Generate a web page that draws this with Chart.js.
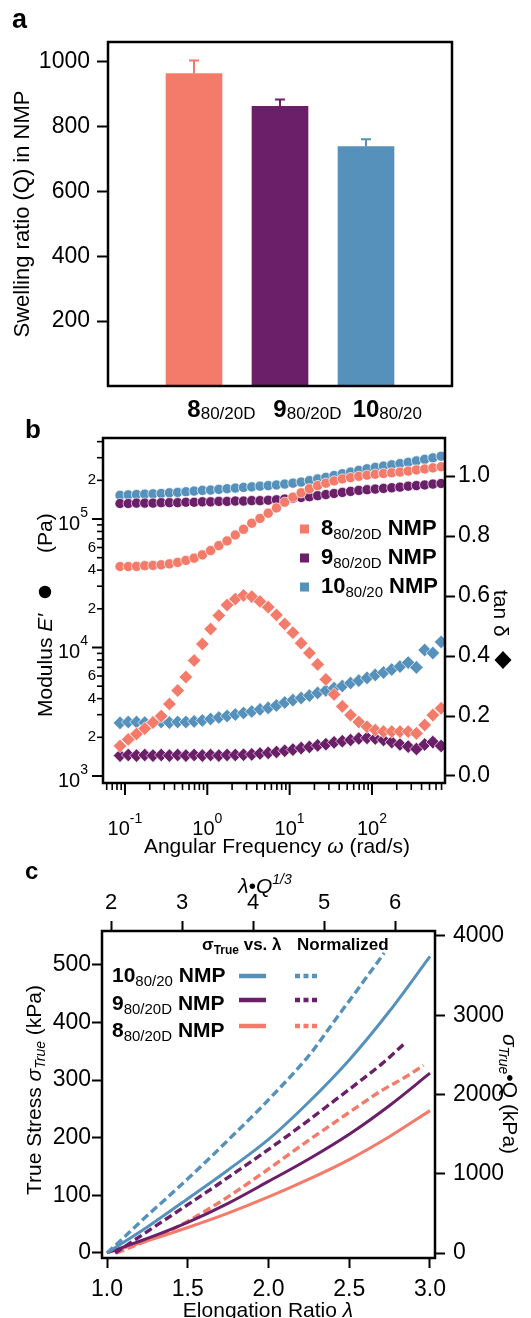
<!DOCTYPE html>
<html>
<head>
<meta charset="utf-8">
<script src="https://cdn.jsdelivr.net/npm/chart.js@4.4.0/dist/chart.umd.min.js"></script>
<style>
  html, body { margin: 0; padding: 0; background: #fff; }
  body { width: 531px; height: 1318px; position: relative; overflow: hidden; }
  canvas { position: absolute; left: 0; }
</style>
</head>
<body>
<canvas id="swell" width="531" height="420" style="top:0"></canvas>
<canvas id="rheo" width="531" height="455" style="top:410px"></canvas>
<canvas id="stress" width="531" height="468" style="top:850px"></canvas>
<script>
// ---- swelling ratio (panel a) ----
const samples = ['8', '9', '10'];
const sampleSubs = ['80/20D', '80/20D', '80/20'];
const swelling = [963, 862, 738];
const swellingErr = [40, 21, 22];
const swellTicks = [200, 400, 600, 800, 1000];

// ---- frequency sweep (panel b) ----
const omega = [0.0871, 0.1096, 0.138, 0.1738, 0.2188, 0.2754, 0.3467, 0.4365, 0.5495, 0.6918,
  0.871, 1.096, 1.38, 1.738, 2.188, 2.754, 3.467, 4.365, 5.495, 6.918,
  8.71, 10.96, 13.8, 17.38, 21.88, 27.54, 34.67, 43.65, 54.95, 69.18,
  87.1, 109.6, 138.0, 173.8, 218.8, 275.4, 346.7, 436.5, 549.5, 691.8];
const modulus8 = [42700, 42700, 42800, 43300, 43500, 44000, 44800, 45900, 47600, 49600,
  52600, 56800, 62100, 67500, 75100, 83200, 92700, 101000, 111000, 122000,
  135000, 148000, 160000, 172000, 182000, 190000, 198000, 205000, 210000, 215000,
  219000, 223000, 226000, 229000, 232000, 236000, 241000, 245000, 250000, 255000];
const modulus9 = [132000, 132000, 133000, 133000, 133000, 134000, 134000, 134000, 135000, 135000,
  136000, 136000, 137000, 137000, 138000, 138000, 139000, 139000, 140000, 141000,
  143000, 145000, 147000, 149000, 152000, 155000, 158000, 161000, 164000, 167000,
  169000, 171000, 173000, 175000, 177000, 180000, 182000, 184000, 187000, 189000];
const modulus10 = [153000, 154000, 155000, 156000, 157000, 158000, 160000, 161000, 163000, 165000,
  167000, 168000, 170000, 172000, 174000, 176000, 178000, 180000, 182000, 184000,
  187000, 190000, 194000, 199000, 205000, 211000, 218000, 225000, 232000, 239000,
  246000, 252000, 258000, 264000, 270000, 276000, 283000, 291000, 299000, 308000];
const tan8 = [0.10, 0.122, 0.14, 0.158, 0.178, 0.20, 0.24, 0.285, 0.33, 0.385,
  0.44, 0.49, 0.535, 0.57, 0.59, 0.602, 0.598, 0.582, 0.563, 0.537,
  0.507, 0.478, 0.443, 0.41, 0.372, 0.322, 0.272, 0.232, 0.203, 0.18,
  0.164, 0.153, 0.148, 0.148, 0.148, 0.148, 0.142, 0.17, 0.203, 0.226];
const tan9 = [0.068, 0.07, 0.068, 0.07, 0.068, 0.07, 0.068, 0.07, 0.068, 0.07,
  0.068, 0.07, 0.068, 0.07, 0.07, 0.071, 0.072, 0.075, 0.077, 0.08,
  0.084, 0.088, 0.093, 0.097, 0.102, 0.106, 0.112, 0.116, 0.12, 0.125,
  0.127, 0.125, 0.12, 0.113, 0.105, 0.098, 0.09, 0.105, 0.113, 0.10];
const tan10 = [0.177, 0.18, 0.18, 0.178, 0.18, 0.18, 0.178, 0.18, 0.18, 0.182,
  0.185, 0.19, 0.195, 0.2, 0.205, 0.21, 0.215, 0.222, 0.227, 0.235,
  0.245, 0.253, 0.26, 0.268, 0.277, 0.285, 0.293, 0.30, 0.31, 0.318,
  0.327, 0.337, 0.345, 0.355, 0.365, 0.378, 0.362, 0.42, 0.41, 0.447];
const freqMajor = [0.1, 1, 10, 100];
const freqExp = ['-1', '0', '1', '2'];
const freqMinor = [0.06, 0.07, 0.08, 0.09, 0.2, 0.3, 0.4, 0.5, 0.6, 0.7, 0.8, 0.9,
  2, 3, 4, 5, 6, 7, 8, 9, 20, 30, 40, 50, 60, 70, 80, 90, 200, 300, 400, 500, 600, 700];
const modMajor = [1e3, 1e4, 1e5];
const modExp = ['3', '4', '5'];
const modMinor = [2e3, 3e3, 4e3, 5e3, 6e3, 7e3, 8e3, 9e3, 2e4, 3e4, 4e4, 5e4, 6e4, 7e4, 8e4, 9e4, 2e5, 3e5, 4e5];
const modMinorLabeled = [2e3, 4e3, 6e3, 2e4, 4e4, 6e4, 2e5];
const tanTicks = [0, 0.2, 0.4, 0.6, 0.8, 1.0];

// ---- tensile curves (panel c) ----
const lambda = [1.0, 1.25, 1.5, 1.75, 2.0, 2.25, 2.5, 2.75, 3.0];
const stress10 = [0, 45, 94, 144, 197, 262, 335, 420, 515];
const stress9 = [0, 25, 53, 86, 124, 163, 206, 256, 312];
const stress8 = [0, 21, 44, 69, 97, 128, 162, 202, 247];
const normX10 = [1.944, 2.103, 2.421, 2.763, 3.081, 3.399, 3.763, 4.036, 4.332, 4.605, 4.833, 5.128, 5.469, 5.847];
const norm10 = [0, 131, 400, 676, 937, 1206, 1525, 1765, 2041, 2303, 2542, 2906, 3320, 3785];
const normX9 = [2.057, 2.398, 2.739, 3.081, 3.422, 3.763, 4.104, 4.446, 4.787, 5.128, 5.469, 5.810, 6.118];
const norm9 = [0, 203, 407, 610, 814, 1024, 1235, 1453, 1678, 1910, 2143, 2383, 2630];
const normX8 = [2.080, 2.398, 2.739, 3.081, 3.422, 3.763, 4.104, 4.446, 4.787, 5.128, 5.469, 5.810, 6.151, 6.402];
const norm8 = [0, 116, 247, 400, 581, 777, 988, 1206, 1424, 1634, 1845, 2049, 2223, 2368];
const lambdaTicks = [1.0, 1.5, 2.0, 2.5, 3.0];
const scaledTicks = [2, 3, 4, 5, 6];
const stressTicks = [0, 100, 200, 300, 400, 500];
const normTicks = [0, 1000, 2000, 3000, 4000];

const C8 = '#f47b6a', C9 = '#6b1f68', C10 = '#5591ba';
const colors = [C8, C9, C10];
const FAM = '"Liberation Sans", Arial, sans-serif';
const f = (size, style) => (style ? style + ' ' : '') + size + 'px ' + FAM;

Chart.defaults.font.family = FAM;
Chart.defaults.color = '#000';
Chart.defaults.animation = false;

// draws text runs side by side; each part is [text, font, dy]
function rich(ctx, parts, x, y, align) {
  let w = 0;
  parts.forEach(p => { ctx.font = p[1]; w += ctx.measureText(p[0]).width; });
  let cx = align === 'center' ? x - w / 2 : align === 'right' ? x - w : x;
  ctx.textAlign = 'left';
  ctx.textBaseline = 'alphabetic';
  parts.forEach(p => {
    ctx.font = p[1];
    ctx.fillText(p[0], cx, y + (p[2] || 0));
    cx += ctx.measureText(p[0]).width;
  });
  return w;
}
function turned(ctx, x, y, angle, fn) {
  ctx.save(); ctx.translate(x, y); ctx.rotate(angle); fn(); ctx.restore();
}
function frame(ctx, a) {
  ctx.save();
  ctx.strokeStyle = '#000';
  ctx.lineWidth = 2.5;
  ctx.strokeRect(a.left, a.top, a.right - a.left, a.bottom - a.top);
  ctx.restore();
}
const tickGrid = len => ({ drawOnChartArea: false, drawTicks: true, tickLength: len, tickWidth: 2, tickColor: '#000' });
const fixTicks = list => scale => { scale.ticks = list.map(v => ({ value: v })); };

// ================= panel a =================
new Chart(document.getElementById('swell'), {
  type: 'bar',
  data: {
    labels: ['', ...samples, ''],
    datasets: [{
      data: [null, ...swelling, null],
      backgroundColor: ['rgba(0,0,0,0)', ...colors, 'rgba(0,0,0,0)'],
      barThickness: 56
    }]
  },
  options: {
    responsive: false,
    layout: { padding: { left: 0, right: 79, top: 42, bottom: 34 } },
    plugins: { legend: { display: false }, tooltip: { enabled: false } },
    scales: {
      x: { type: 'category', offset: false, display: false },
      y: {
        min: 0, max: 1060,
        afterBuildTicks: fixTicks(swellTicks),
        afterFit: s => { s.width = 108; },
        grid: tickGrid(11),
        border: { display: false },
        ticks: { font: { size: 23 }, padding: 7, color: '#000', callback: v => String(v) }
      }
    }
  },
  plugins: [{
    id: 'swellDecor',
    afterDatasetsDraw(chart) {
      const ctx = chart.ctx, meta = chart.getDatasetMeta(0), y = chart.scales.y;
      ctx.save();
      swelling.forEach((v, i) => {
        const bar = meta.data[i + 1];
        const top = y.getPixelForValue(v), end = y.getPixelForValue(v + swellingErr[i]);
        ctx.strokeStyle = colors[i];
        ctx.lineWidth = 2;
        ctx.beginPath();
        ctx.moveTo(bar.x, top); ctx.lineTo(bar.x, end);
        ctx.moveTo(bar.x - 5, end); ctx.lineTo(bar.x + 5, end);
        ctx.stroke();
      });
      ctx.restore();
    },
    afterDraw(chart) {
      const ctx = chart.ctx, a = chart.chartArea, x = chart.scales.x;
      frame(ctx, a);
      ctx.save();
      ctx.fillStyle = '#000';
      samples.forEach((s, i) => {
        const px = x.getPixelForValue(i + 1);
        ctx.font = f(24, 'bold');
        const mw = ctx.measureText(s).width;
        rich(ctx, [[s, f(24, 'bold'), 0], [sampleSubs[i], f(17), 2]], px - mw / 2, 417, 'left');
      });
      turned(ctx, 29, 214, -Math.PI / 2, () => rich(ctx, [['Swelling ratio (Q) in NMP', f(22)]], 0, 0, 'center'));
      rich(ctx, [['a', f(27, 'bold')]], 12, 28, 'left');
      ctx.restore();
    }
  }]
});

// ================= panel b =================
const pts = (xs, ys) => xs.map((v, i) => ({ x: v, y: ys[i] }));
const sweep = (data, color, style, axis) => ({
  data, yAxisID: axis, pointStyle: style,
  pointRadius: style === 'circle' ? 5.1 : 6.8,
  pointBackgroundColor: color, pointBorderColor: 'rgba(255,255,255,0.85)', pointBorderWidth: 0.8,
  showLine: false
});
new Chart(document.getElementById('rheo'), {
  type: 'scatter',
  data: {
    datasets: [
      sweep(pts(omega, tan8), C8, 'rectRot', 'y2'),
      sweep(pts(omega, modulus8), C8, 'circle', 'y'),
      sweep(pts(omega, tan9), C9, 'rectRot', 'y2'),
      sweep(pts(omega, modulus9), C9, 'circle', 'y'),
      sweep(pts(omega, tan10), C10, 'rectRot', 'y2'),
      sweep(pts(omega, modulus10), C10, 'circle', 'y')
    ]
  },
  options: {
    responsive: false,
    layout: { padding: { left: 103, right: 0, top: 28, bottom: 82 } },
    plugins: { legend: { display: false }, tooltip: { enabled: false } },
    scales: {
      x: { type: 'logarithmic', min: 0.0541, max: 771, display: false },
      y: { type: 'logarithmic', min: 882, max: 427000, display: false },
      y2: {
        type: 'linear', position: 'right', min: -0.0234, max: 1.127,
        afterBuildTicks: fixTicks(tanTicks),
        afterFit: s => { s.width = 86; },
        grid: tickGrid(10),
        border: { display: false },
        ticks: { font: { size: 23 }, padding: 3, color: '#000', callback: v => v.toFixed(1) }
      }
    }
  },
  plugins: [{
    id: 'rheoDecor',
    afterDraw(chart) {
      const ctx = chart.ctx, a = chart.chartArea, x = chart.scales.x, y = chart.scales.y;
      frame(ctx, a);
      ctx.save();
      ctx.strokeStyle = '#000';
      ctx.fillStyle = '#000';
      // frequency ticks
      ctx.lineWidth = 2;
      freqMajor.forEach(v => {
        const px = x.getPixelForValue(v);
        ctx.beginPath(); ctx.moveTo(px, a.bottom); ctx.lineTo(px, a.bottom + 12); ctx.stroke();
      });
      ctx.lineWidth = 1.6;
      freqMinor.forEach(v => {
        const px = x.getPixelForValue(v);
        if (px <= a.left + 1 || px >= a.right - 1) return;
        ctx.beginPath(); ctx.moveTo(px, a.bottom); ctx.lineTo(px, a.bottom + 7); ctx.stroke();
      });
      freqMajor.forEach((v, i) => {
        rich(ctx, [['10', f(20)], [freqExp[i], f(14), -12]], x.getPixelForValue(v), 425, 'center');
      });
      // modulus ticks
      ctx.lineWidth = 2;
      modMajor.forEach((v, i) => {
        const py = y.getPixelForValue(v);
        ctx.beginPath(); ctx.moveTo(a.left, py); ctx.lineTo(a.left - 11, py); ctx.stroke();
        rich(ctx, [['10', f(20), 11], [modExp[i], f(14), -2]], a.left - 15, py, 'right');
      });
      ctx.lineWidth = 1.6;
      modMinor.forEach(v => {
        const py = y.getPixelForValue(v);
        ctx.beginPath(); ctx.moveTo(a.left, py); ctx.lineTo(a.left - 6, py); ctx.stroke();
      });
      ctx.font = f(15);
      ctx.textAlign = 'right';
      ctx.textBaseline = 'middle';
      modMinorLabeled.forEach(v => {
        ctx.fillText(String(v).charAt(0), a.left - 7, y.getPixelForValue(v));
      });
      // axis titles
      rich(ctx, [['Angular Frequency ', f(21)], ['ω', f(21, 'italic')], [' (rad/s)', f(21)]], 277, 443, 'center');
      turned(ctx, 52, 307, -Math.PI / 2, () => rich(ctx, [['Modulus ', f(21)], ['E′', f(21, 'italic')]], 0, 0, 'left'));
      ctx.beginPath(); ctx.arc(45, 182, 6.2, 0, Math.PI * 2); ctx.fill();
      turned(ctx, 52, 143, -Math.PI / 2, () => rich(ctx, [['(Pa)', f(21)]], 0, 0, 'left'));
      turned(ctx, 494, 180, Math.PI / 2, () => rich(ctx, [['tan δ', f(21)]], 0, 0, 'left'));
      ctx.beginPath();
      ctx.moveTo(503, 241); ctx.lineTo(511.5, 250); ctx.lineTo(503, 259); ctx.lineTo(494.5, 250);
      ctx.closePath(); ctx.fill();
      // legend
      [0, 1, 2].forEach(i => {
        const cy = 119 + i * 29;
        ctx.fillStyle = colors[i];
        ctx.fillRect(300, cy - 4.5, 9, 9);
        ctx.fillStyle = '#000';
        rich(ctx, [[samples[i], f(22, 'bold')], [sampleSubs[i], f(15), 4], [' NMP', f(22, 'bold')]], 321, cy + 6, 'left');
      });
      rich(ctx, [['b', f(26, 'bold')]], 25, 28, 'left');
      ctx.restore();
    }
  }]
});

// ================= panel c =================
const curve = (data, color, xAxis, yAxis, dashed) => ({
  data, borderColor: color, borderWidth: dashed ? 3.4 : 3, pointRadius: 0,
  xAxisID: xAxis, yAxisID: yAxis, borderDash: dashed ? [8, 4] : [],
  cubicInterpolationMode: 'monotone', fill: false
});
const axisStyle = (list, len, size, pad, width, height, fmt) => ({
  afterBuildTicks: fixTicks(list),
  afterFit: s => { if (width) s.width = width; if (height) s.height = height; },
  grid: tickGrid(len),
  border: { display: false },
  ticks: { font: { size }, padding: pad, color: '#000', autoSkip: false, maxRotation: 0, callback: fmt || (v => String(v)) }
});
new Chart(document.getElementById('stress'), {
  type: 'line',
  data: {
    datasets: [
      curve(pts(lambda, stress10), C10, 'x', 'y', false),
      curve(pts(normX10, norm10), C10, 'x2', 'y2', true),
      curve(pts(lambda, stress9), C9, 'x', 'y', false),
      curve(pts(normX9, norm9), C9, 'x2', 'y2', true),
      curve(pts(lambda, stress8), C8, 'x', 'y', false),
      curve(pts(normX8, norm8), C8, 'x2', 'y2', true)
    ]
  },
  options: {
    responsive: false,
    layout: { padding: 0 },
    plugins: { legend: { display: false }, tooltip: { enabled: false } },
    scales: {
      x: Object.assign({ type: 'linear', position: 'bottom', min: 0.969, max: 3.031 },
        axisStyle(lambdaTicks, 10, 23, 8, 0, 60, v => v.toFixed(1))),
      x2: Object.assign({ type: 'linear', position: 'top', min: 1.873, max: 6.563 },
        axisStyle(scaledTicks, 10, 22, 5, 0, 81)),
      y: Object.assign({ type: 'linear', position: 'left', min: -9, max: 559 },
        axisStyle(stressTicks, 10, 23, 1, 102, 0)),
      y2: Object.assign({ type: 'linear', position: 'right', min: -63, max: 4063 },
        axisStyle(normTicks, 10, 23, 8, 96, 0))
    }
  },
  plugins: [{
    id: 'stressDecor',
    afterDraw(chart) {
      const ctx = chart.ctx, a = chart.chartArea;
      frame(ctx, a);
      ctx.save();
      ctx.fillStyle = '#000';
      // axis titles
      rich(ctx, [['λ•Q', f(21, 'italic')], ['1/3', f(14, 'italic'), -9]], 265, 43, 'center');
      rich(ctx, [['Elongation Ratio ', f(21)], ['λ', f(21, 'italic')]], 268, 467, 'center');
      turned(ctx, 41, 240, -Math.PI / 2, () => rich(ctx, [['True Stress ', f(21)], ['σ', f(21, 'italic')],
        ['True', f(14, 'italic'), 4], [' (kPa)', f(21)]], 0, 0, 'center'));
      turned(ctx, 503, 244, Math.PI / 2, () => rich(ctx, [['σ', f(21, 'italic')], ['True', f(14, 'italic'), 4],
        ['•Q (kPa)', f(21)]], 0, 0, 'center'));
      // legend
      rich(ctx, [['σ', f(17, 'bold')], ['True', f(12, 'bold'), 4], [' vs. λ', f(17, 'bold')]], 202, 100, 'left');
      rich(ctx, [['Normalized', f(17, 'bold')]], 297, 100, 'left');
      const order = [2, 1, 0];
      const lineY = [126, 150, 176];
      const textY = [132, 160, 187];
      order.forEach((k, r) => {
        rich(ctx, [[samples[k], f(21, 'bold')], [sampleSubs[k], f(15), 4], [' NMP', f(21, 'bold')]], 112, textY[r], 'left');
        ctx.strokeStyle = colors[k];
        ctx.lineWidth = 4.5;
        ctx.setLineDash([]);
        ctx.beginPath(); ctx.moveTo(239, lineY[r]); ctx.lineTo(266, lineY[r]); ctx.stroke();
        ctx.setLineDash([5, 3.5]);
        ctx.beginPath(); ctx.moveTo(295, lineY[r]); ctx.lineTo(318, lineY[r]); ctx.stroke();
      });
      ctx.setLineDash([]);
      rich(ctx, [['c', f(24, 'bold')]], 25, 29, 'left');
      ctx.restore();
    }
  }]
});
</script>
</body>
</html>
